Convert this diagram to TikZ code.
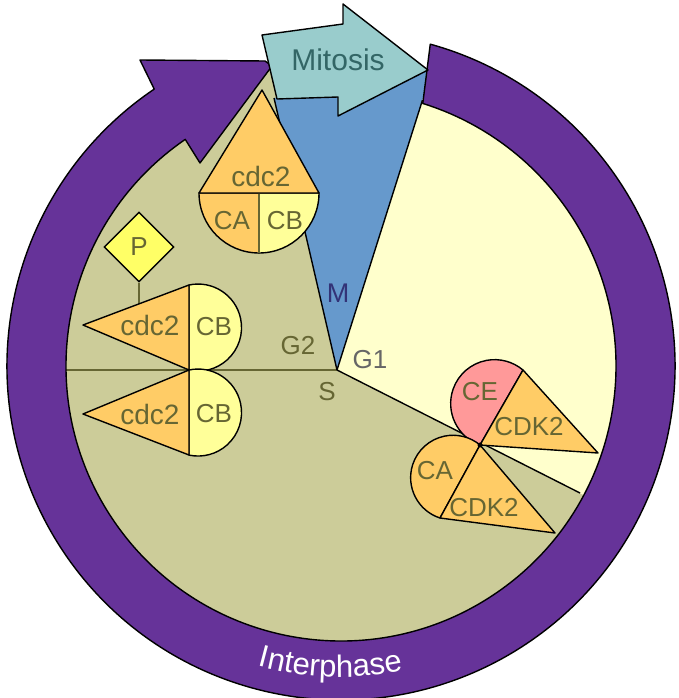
\documentclass[tikz,border=0pt]{standalone}
\usepackage{fontspec}
\setmainfont{Liberation Sans}
\usetikzlibrary{calc,shapes.geometric,decorations.text}
\definecolor{ringpurple}{HTML}{663399}
\definecolor{khaki}{HTML}{CCCC99}
\definecolor{paleyellow}{HTML}{FFFFCC}
\definecolor{mblue}{HTML}{6699CC}
\definecolor{mteal}{HTML}{99CCCC}
\definecolor{orng}{HTML}{FFCC66}
\definecolor{cbyellow}{HTML}{FFFF99}
\definecolor{pyellow}{HTML}{FFFF66}
\definecolor{cepink}{HTML}{FF9999}
\definecolor{olivetext}{HTML}{666633}
\definecolor{tealtext}{HTML}{336666}
\definecolor{navytext}{HTML}{333377}
\begin{document}
\begin{tikzpicture}[x=1pt,y=-1pt,
  outl/.style={draw=black,line width=1.4pt,line join=round},
  phaseline/.style={draw=black,line width=1.4pt},
  oliveline/.style={draw=olivetext,line width=2.5pt},
  lbl/.style={inner sep=0pt,text=olivetext,font=\fontsize{26}{26}\selectfont},
  cdclbl/.style={inner sep=0pt,text=olivetext,font=\fontsize{28}{28}\selectfont},
  phaselbl/.style={inner sep=0pt,text=olivetext,font=\fontsize{26}{26}\selectfont}]
\useasboundingbox (0,0) rectangle (678,698);

\coordinate (C) at (341,366);
\coordinate (O) at (337,370);

% khaki interior
\fill[khaki] (C) circle[radius=275];
\fill[khaki] (190,150) -- (272,58) -- (300,58) -- (300,200) -- cycle;

% G1 region
\begin{scope}
  \clip (C) circle[radius=275];
  \fill[paleyellow] (O) -- (433,66) -- (700,66) -- (700,554) -- cycle;
\end{scope}

% M wedge
\fill[mblue] (O) -- (274,98) -- (338,92) -- (428,70) -- (433,66) -- cycle;

% phase boundaries
\coordinate (G2end) at (66,370);
\coordinate (Mleft) at (274,98);
\coordinate (Mright) at (422.5,100);
\coordinate (Send) at (580,493);
\draw[oliveline] (G2end) -- (O);
\draw[phaseline] (O) -- (Mleft);
\draw[phaseline] (O) -- (Mright);
\draw[phaseline] (O) -- (Send);

% Interphase ring with arrowhead
\coordinate (RO1) at ($(C)+(-74.5:334)$);
\coordinate (RI2) at ($(C)+(235.5:275)$);
\draw[outl,fill=ringpurple] (RO1) arc[start angle=-74.5,end angle=236,radius=334]
  -- (140,60) -- (265,61) -- (272,66) -- (200,163) -- (RI2)
  arc[start angle=235.5,end angle=-72.7,radius=275] -- cycle;

\path[decorate,decoration={text along path,text align=center,text color=white,
  text={|\fontsize{31}{31}\selectfont|Interphase}}]
  ($(C)+(125:311)$) arc[start angle=125,end angle=59,radius=311];

% Mitosis arrow
\draw[outl,fill=mteal] (262,35) -- (343,24) -- (343,4) -- (428,70) -- (338,116)
  -- (338,97) -- (277,99) -- cycle;
\node[inner sep=0pt,text=tealtext,font=\fontsize{30}{30}\selectfont] (mitosis) at (338,60) {Mitosis};

% top complex: cdc2 / CA / CB
\coordinate (T1tip) at (262,90);
\coordinate (T1l) at (199,193);
\coordinate (T1r) at (319,193);
\coordinate (T1c) at (259,193);
\coordinate (T1b) at (259,253);
\draw[outl,fill=orng] (T1c) -- (T1l) arc[start angle=180,end angle=90,radius=60] -- cycle;
\draw[outl,fill=cbyellow] (T1c) -- (T1b) arc[start angle=90,end angle=0,radius=60] -- cycle;
\draw[oliveline] (T1c) -- (T1b);
\draw[outl,fill=orng] (T1tip) -- (T1l) -- (T1r) -- cycle;
\node[cdclbl] (cdcA) at (261,176) {cdc2};
\node[lbl] (caA) at (232,221) {CA};
\node[lbl] (cbA) at (285,221) {CB};

% left upper complex with P
\coordinate (L1tip) at (83,325);
\coordinate (L1t) at (189,285);
\coordinate (L1b) at (189,370);
\coordinate (Pstem) at (139,303.9);
\node[diamond,draw=black,line width=1.4pt,fill=pyellow,minimum width=70pt,minimum height=70pt,
  aspect=1,inner sep=0pt,text=olivetext,font=\fontsize{26}{26}\selectfont] (P) at (139,247) {P};
\draw[draw=olivetext,line width=2pt] (P.south) -- (Pstem);
\draw[outl,fill=cbyellow] (L1t) arc[start angle=-102,end angle=102,radius=43.5] -- cycle;
\draw[outl,fill=orng] (L1tip) -- (L1t) -- (L1b) -- cycle;
\node[cdclbl] (cdcB) at (150,325) {cdc2};
\node[lbl] (cbB) at (214,327) {CB};

% left lower complex
\coordinate (L2tip) at (83,414);
\coordinate (L2t) at (189,370);
\coordinate (L2b) at (189,455);
\draw[outl,fill=cbyellow] (L2t) arc[start angle=-102,end angle=102,radius=43.5] -- cycle;
\draw[outl,fill=orng] (L2tip) -- (L2t) -- (L2b) -- cycle;
\node[cdclbl] (cdcC) at (150,414) {cdc2};
\node[lbl] (cbC) at (214,414) {CB};

% right complexes
\coordinate (J) at (480,445);
\coordinate (RA) at (523,370);
\coordinate (RB) at (598,453);
\coordinate (RC) at (440,518);
\coordinate (RD) at (555,533);
\draw[outl,fill=cepink] (J) arc[start angle=109.4,end angle=310.3,radius=43.93] -- cycle;
\draw[outl,fill=orng] (J) -- (RA) -- (RB) -- cycle;
\draw[outl,fill=orng] (RC) arc[start angle=107.9,end angle=309.6,radius=42.4] -- cycle;
\draw[outl,fill=orng] (J) -- (RC) -- (RD) -- cycle;
\fill[black] (J) circle[radius=2.5];
\node[lbl] (ce) at (480,392) {CE};
\node[lbl] (cdkA) at (529,427) {CDK2};
\node[lbl] (caB) at (435,471) {CA};
\node[lbl] (cdkB) at (484,508) {CDK2};

% phase labels
\node[inner sep=0pt,text=navytext,font=\fontsize{27}{27}\selectfont] (mlbl) at (338,293) {M};
\node[phaselbl] (g2) at (298,346) {G2};
\node[phaselbl,text=black!60] (g1) at (370,360) {G1};
\node[phaselbl] (s) at (327,392) {S};
\end{tikzpicture}
\end{document}
